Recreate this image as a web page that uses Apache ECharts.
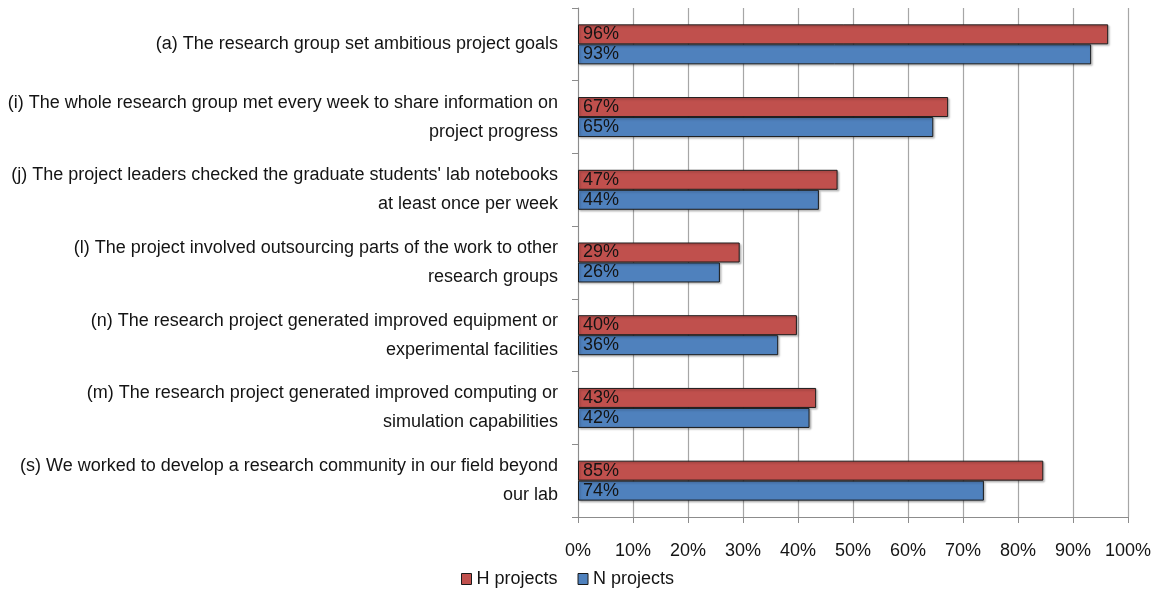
<!DOCTYPE html>
<html>
<head>
<meta charset="utf-8">
<script src="https://cdn.jsdelivr.net/npm/echarts@6/dist/echarts.min.js"></script>
<style>
  html, body { margin: 0; padding: 0; background: #fff; }
  #chart { width: 1159px; height: 589px; }
</style>
</head>
<body>
<div id="chart"></div>
<script>
// Survey items, top to bottom
var categories = [
  "(a) The research group set ambitious project goals",
  "(i) The whole research group met every week to share information on\nproject progress",
  "(j) The project leaders checked the graduate students' lab notebooks\nat least once per week",
  "(l) The project involved outsourcing parts of the work to other\nresearch groups",
  "(n) The research project generated improved equipment or\nexperimental facilities",
  "(m) The research project generated improved computing or\nsimulation capabilities",
  "(s) We worked to develop a research community in our field beyond\nour lab"
];
// Share of respondents agreeing (%)
var hProjects = [96.4, 67.3, 47.2, 29.4, 39.8, 43.3, 84.6];
var nProjects = [93.3, 64.6, 43.8, 25.8, 36.4, 42.1, 73.8];
var seriesNames = ["H projects", "N projects"];
var xTicks = [0, 10, 20, 30, 40, 50, 60, 70, 80, 90, 100];

var FONT = "Liberation Sans, Arial, sans-serif";
var TEXT = '#141414';
var chart = echarts.init(document.getElementById('chart'));

function barLabel() {
  return {
    show: true,
    position: 'insideLeft',
    distance: 5,
    color: TEXT,
    fontFamily: FONT,
    fontSize: 18,
    formatter: function (p) { return Math.round(p.value) + '%'; }
  };
}

function barStyle(color) {
  return {
    color: color,
    borderColor: '#1a1a1a',
    borderWidth: 1,
    shadowColor: 'rgba(0,0,0,0.25)',
    shadowBlur: 2,
    shadowOffsetX: 1.5,
    shadowOffsetY: 1.5
  };
}

chart.setOption({
  animation: false,
  grid: { left: 578, right: 31, top: 8, bottom: 72, containLabel: false },
  legend: {
    data: seriesNames.map(function (n) { return { name: n, icon: 'rect' }; }),
    left: 461,
    top: 570,
    padding: 0,
    itemWidth: 10,
    itemHeight: 11,
    itemGap: 20,
    itemStyle: { borderColor: '#1a1a1a', borderWidth: 1, shadowBlur: 0, shadowOffsetX: 0, shadowOffsetY: 0 },
    textStyle: { fontFamily: FONT, fontSize: 18, color: TEXT, padding: [3, 0, 0, 0] }
  },
  xAxis: {
    type: 'value',
    min: xTicks[0],
    max: xTicks[xTicks.length - 1],
    interval: 10,
    axisLine: { show: true, lineStyle: { color: '#8c8c8c', width: 1 } },
    axisTick: { show: true, length: 6, lineStyle: { color: '#8c8c8c' } },
    splitLine: { show: true, lineStyle: { color: '#a6a6a6', width: 1.2 } },
    axisLabel: {
      margin: 25,
      color: TEXT,
      fontFamily: FONT,
      fontSize: 18,
      formatter: function (v) { return v + '%'; }
    }
  },
  yAxis: {
    type: 'category',
    data: categories,
    inverse: true,
    axisLine: { show: true, lineStyle: { color: '#8c8c8c', width: 1 } },
    axisTick: { show: true, length: 6, lineStyle: { color: '#8c8c8c' } },
    axisLabel: {
      margin: 20,
      color: TEXT,
      fontFamily: FONT,
      fontSize: 18,
      lineHeight: 29,
      padding: [4, 0, 0, 0],
      align: 'right'
    }
  },
  series: [
    {
      name: seriesNames[0],
      type: 'bar',
      data: hProjects,
      barGap: '0%',
      barCategoryGap: '45%',
      itemStyle: barStyle('#C0504D'),
      label: barLabel()
    },
    {
      name: seriesNames[1],
      type: 'bar',
      data: nProjects,
      barGap: '0%',
      barCategoryGap: '45%',
      itemStyle: barStyle('#4F81BD'),
      label: barLabel()
    }
  ]
});
</script>
</body>
</html>
